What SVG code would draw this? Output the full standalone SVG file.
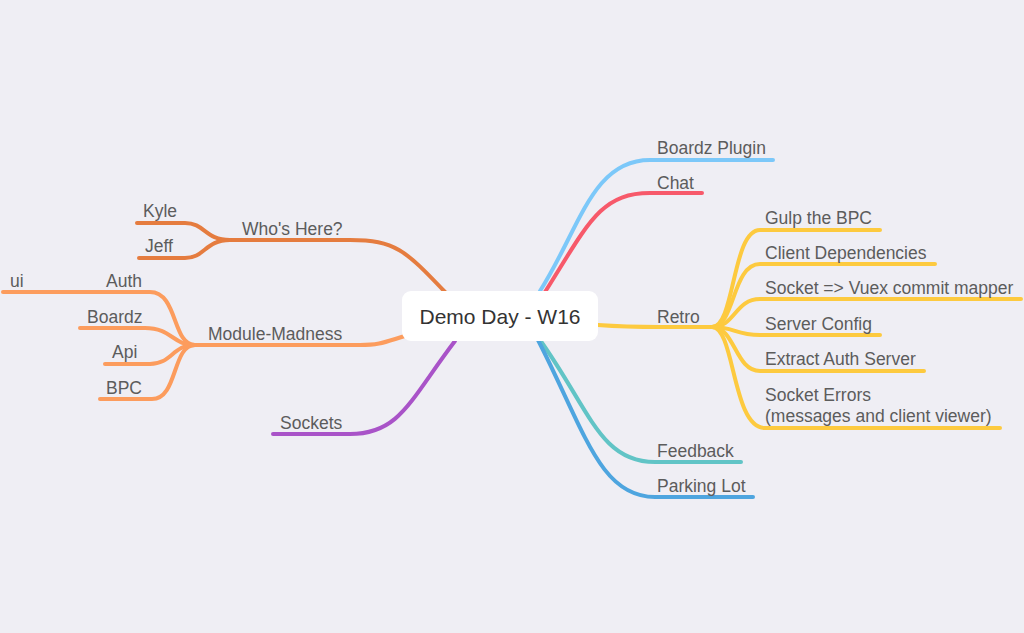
<svg xmlns="http://www.w3.org/2000/svg" width="1024" height="633" viewBox="0 0 1024 633">
<style>
.bg{fill:#efeef4}
.c{fill:none;stroke-width:4;stroke-linecap:round;stroke-linejoin:round}
.t{font-family:"Liberation Sans",Arial,sans-serif;font-size:17.5px;fill:#5c5c5c}
.root{font-family:"Liberation Sans",Arial,sans-serif;font-size:21px;fill:#333}
.who{stroke:#e57c3f}.mod{stroke:#fc9c5d}.sock{stroke:#a953c8}
.bp{stroke:#7cc8f9}.chat{stroke:#f7596a}.retro{stroke:#fdca3f}
.fb{stroke:#61c4c6}.pl{stroke:#4ea5df}
</style>
<rect class="bg" x="0" y="0" width="1024" height="633"/>
<g id="connectors">
<path class="c bp" d="M540 291 C580 228 592 160 650 160 L773 160"/>
<path class="c chat" d="M545 292 C588 224 600 193 650 193 L702 193"/>
<path class="c retro" d="M598 325 C625 327 640 327 660 327 L712 327"/>
<path class="c retro" d="M712 327 C735 327 732 230 760 230 L880 230"/>
<path class="c retro" d="M712 327 C735 327 732 264 760 264 L935 264"/>
<path class="c retro" d="M712 327 C735 327 735 299 760 299 L1021 299"/>
<path class="c retro" d="M712 327 C735 327 735 335 760 335 L880 335"/>
<path class="c retro" d="M712 327 C735 327 735 371 760 371 L924 371"/>
<path class="c retro" d="M712 327 C735 327 732 428 765 428 L1000 428"/>
<path class="c fb" d="M540 340 C590 410 600 462 655 462 L741 462"/>
<path class="c pl" d="M538 340 C585 432 600 497 655 497 L753 497"/>
<path class="c who" d="M445 292 C405 250 395 240 350 240 L230 240"/>
<path class="c who" d="M230 240 C205 240 205 223 185 223 L137 223"/>
<path class="c who" d="M230 240 C205 240 205 258 185 258 L139 258"/>
<path class="c mod" d="M405 336 C385 342 380 345 360 345 L195 345"/>
<path class="c mod" d="M195 345 C172 345 178 292 150 292 L100 292"/>
<path class="c mod" d="M100 292 L3 292"/>
<path class="c mod" d="M195 345 C172 345 172 328 145 328 L80 328"/>
<path class="c mod" d="M195 345 C172 345 172 364 150 364 L105 364"/>
<path class="c mod" d="M195 345 C172 345 178 399 152 399 L100 399"/>
<path class="c sock" d="M455 341 C410 400 400 434 350 434 L273 434"/>
</g>
<g id="root"><rect x="402" y="291" width="196" height="50" rx="9" fill="#fff"/><text class="root" x="500" y="324" text-anchor="middle">Demo Day - W16</text></g>
<g id="boardz-plugin"><text class="t" x="657" y="154">Boardz Plugin</text></g>
<g id="chat"><text class="t" x="657" y="189">Chat</text></g>
<g id="retro"><text class="t" x="657" y="323">Retro</text></g>
<g id="gulp"><text class="t" x="765" y="224">Gulp the BPC</text></g>
<g id="client-deps"><text class="t" x="765" y="259">Client Dependencies</text></g>
<g id="socket-vuex"><text class="t" x="765" y="294">Socket =&gt; Vuex commit mapper</text></g>
<g id="server-config"><text class="t" x="765" y="330">Server Config</text></g>
<g id="extract-auth"><text class="t" x="765" y="365">Extract Auth Server</text></g>
<g id="socket-errors"><text class="t" x="765" y="401">Socket Errors</text><text class="t" x="765" y="422">(messages and client viewer)</text></g>
<g id="feedback"><text class="t" x="657" y="457">Feedback</text></g>
<g id="parking-lot"><text class="t" x="657" y="492">Parking Lot</text></g>
<g id="whos-here"><text class="t" x="242" y="235">Who's Here?</text></g>
<g id="kyle"><text class="t" x="143" y="217">Kyle</text></g>
<g id="jeff"><text class="t" x="145" y="252">Jeff</text></g>
<g id="module-madness"><text class="t" x="208" y="340">Module-Madness</text></g>
<g id="auth"><text class="t" x="106" y="287">Auth</text></g>
<g id="ui"><text class="t" x="10" y="287">ui</text></g>
<g id="boardz"><text class="t" x="87" y="323">Boardz</text></g>
<g id="api"><text class="t" x="112" y="358">Api</text></g>
<g id="bpc"><text class="t" x="106" y="394">BPC</text></g>
<g id="sockets"><text class="t" x="280" y="429">Sockets</text></g>
</svg>
